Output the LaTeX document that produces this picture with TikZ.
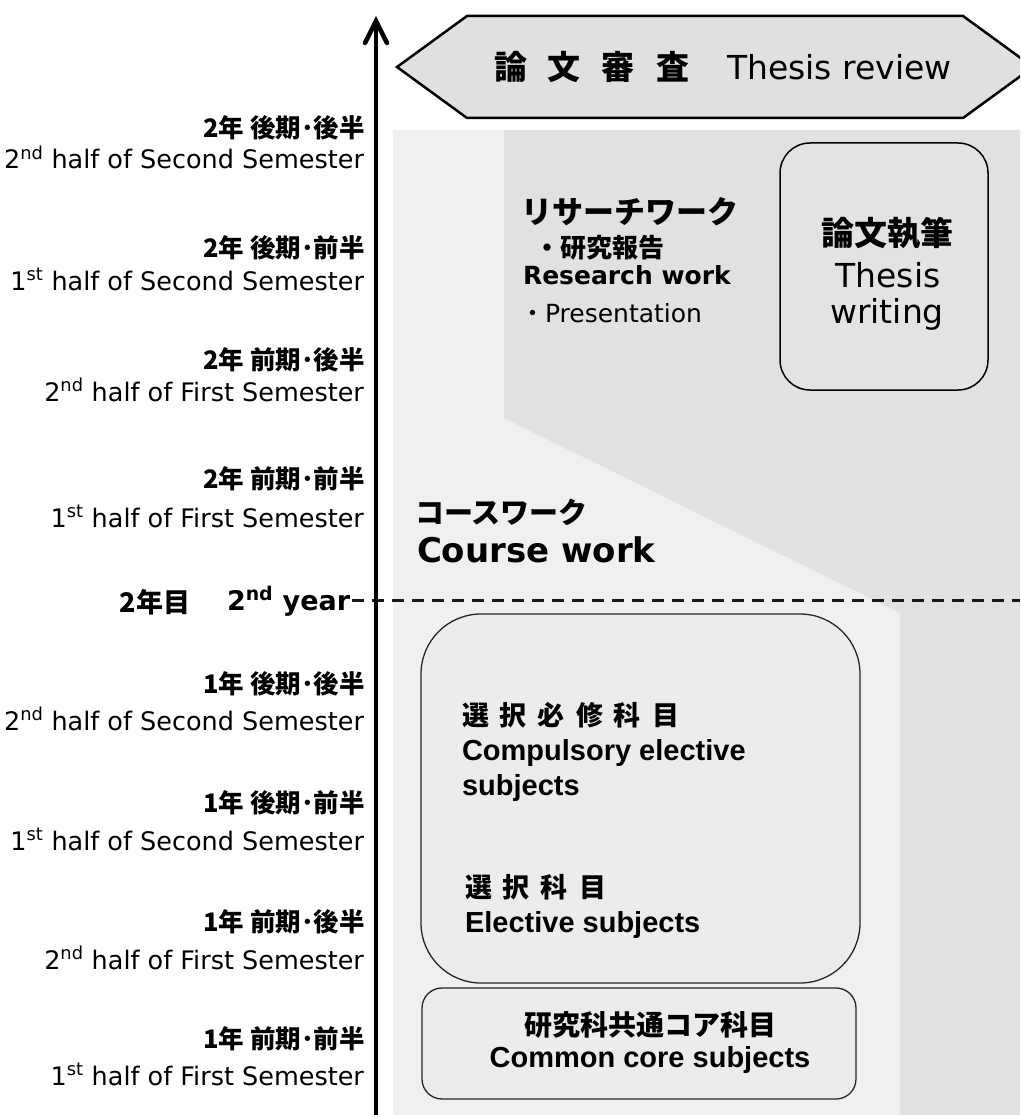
\documentclass[tikz,border=0pt]{standalone}
\usepackage{fontspec}
\setmainfont{DejaVu Sans}
\newfontfamily\jp{Noto Sans CJK JP}
\newfontfamily\ari{Liberation Sans}
\usetikzlibrary{arrows.meta}
\definecolor{lightbg}{HTML}{F0F0F0}
\definecolor{darkbg}{HTML}{E1E1E1}
\definecolor{hexfill}{HTML}{E0E0E0}
\definecolor{boxfill}{HTML}{ECECEC}
\definecolor{thfill}{HTML}{E3E3E3}
\newcommand\fsz[1]{\fontsize{#1}{#1}\selectfont}
\newcommand\jk{\kern11pt}
\tikzset{
  txt/.style={inner sep=0pt, outer sep=0pt},
  jpL/.style={txt, anchor=east, font=\jp\bfseries\fsz{25.5}},
  enL/.style={txt, anchor=base east, font=\fsz{25.5}},
  hexa/.style={draw=black, line width=2.5pt, fill=hexfill, line join=miter},
  thbox/.style={draw=black, line width=1.5pt, fill=thfill, rounded corners=30pt, inner sep=0pt},
  sbox/.style={draw=black!85, line width=1.3pt, fill=boxfill, inner sep=0pt},
  axisline/.style={line width=4.5pt},
  axishead/.style={line width=4.5pt, line cap=round, line join=miter},
  yeardash/.style={line width=3pt, black!90, dash pattern=on 12pt off 8pt},
  boldjp/.style={txt, font=\jp\bfseries\fsz{27}},
  arb/.style={txt, anchor=base west, font=\ari\bfseries\fsz{29}}
}
\begin{document}
\begin{tikzpicture}[x=1pt,y=-1pt]
\useasboundingbox (0,0) rectangle (1020,1115);
\begin{scope}
\clip (0,0) rectangle (1020,1115);
% backgrounds
\fill[lightbg] (393,130) rectangle (1020,1115);
\fill[darkbg] (504,130) -- (1020,130) -- (1020,1115) -- (900,1115) -- (900,613) -- (504,418) -- cycle;
% thesis review banner
\draw[hexa] (397,67) -- (467,16) -- (963,16) -- (1033,67) -- (963,118) -- (467,118) -- cycle;
\end{scope}
\node[txt, anchor=west, font=\jp\bfseries\fsz{33}] (rev1) at (494,67) {論\kern21pt{}文\kern21pt{}審\kern21pt{}査};
\node[txt, anchor=base west, font=\fsz{33}] (rev2) at (727,80) {Thesis review};

% year divider
\coordinate (dl) at (352,600);
\coordinate (dr) at (1020,600);
\draw[yeardash] (dl) -- (dr);

% axis with open chevron head
\coordinate (axbot) at (376,1115);
\coordinate (axtop) at (376,21);
\coordinate (hl) at (365,43);
\coordinate (hr) at (387,43);
\draw[axisline] (axbot) -- (axtop);
\draw[axishead] (hl) -- (axtop) -- (hr);

% left labels
\node[jpL] (j1) at (365,128) {2年 後期･後半};
\node[enL] (e1) at (364,169) {2\textsuperscript{nd} half of Second Semester};
\node[jpL] (j2) at (365,248) {2年 後期･前半};
\node[enL] (e2) at (364,290) {1\textsuperscript{st} half of Second Semester};
\node[jpL] (j3) at (365,360) {2年 前期･後半};
\node[enL] (e3) at (364,401) {2\textsuperscript{nd} half of First Semester};
\node[jpL] (j4) at (365,479) {2年 前期･前半};
\node[enL] (e4) at (364,527) {1\textsuperscript{st} half of First Semester};
\node[txt, anchor=east, font=\jp\bfseries\fsz{27}] (yj) at (190,602) {2年目};
\node[txt, anchor=base west, font=\bfseries\fsz{27}] (ye) at (227,610) {2\textsuperscript{nd} year};
\node[jpL] (j5) at (365,684) {1年 後期･後半};
\node[enL] (e5) at (364,730) {2\textsuperscript{nd} half of Second Semester};
\node[jpL] (j6) at (365,803) {1年 後期･前半};
\node[enL] (e6) at (364,850) {1\textsuperscript{st} half of Second Semester};
\node[jpL] (j7) at (365,922) {1年 前期･後半};
\node[enL] (e7) at (364,969) {2\textsuperscript{nd} half of First Semester};
\node[jpL] (j8) at (365,1039) {1年 前期･前半};
\node[enL] (e8) at (364,1085) {1\textsuperscript{st} half of First Semester};

% research work
\node[txt, anchor=west, font=\jp\bfseries\fsz{31}] (rw1) at (521,212) {リサーチワーク};
\node[txt, anchor=west, font=\jp\bfseries\fsz{26}] (rw2) at (534,248) {・研究報告};
\node[txt, anchor=base west, font=\bfseries\fsz{25}] (rw3) at (523,284) {Research work};
\node[txt, anchor=base west, font=\fsz{25}] (rw4) at (520,322) {{\jp ・}Presentation};

% thesis writing
\node[thbox, minimum width=208pt, minimum height=247pt] (thesis) at (884,266.5) {};
\node[txt, font=\jp\bfseries\fsz{33}] (th1) at (887,233) {論文執筆};
\node[txt, anchor=base, font=\fsz{33}] (th2) at (888,287) {Thesis};
\node[txt, anchor=base, font=\fsz{33}] (th3) at (887,323) {writing};

% course work
\node[txt, anchor=west, font=\jp\bfseries\fsz{29}] (cw1) at (415,512) {コースワーク};
\node[txt, anchor=base west, font=\bfseries\fsz{34}] (cw2) at (417,562) {Course work};

% elective box
\node[sbox, rounded corners=60pt, minimum width=439pt, minimum height=369pt] (elec) at (640.5,798.5) {};
\node[boldjp, anchor=west] (ce1) at (462,715) {選\jk{}択\jk{}必\jk{}修\jk{}科\jk{}目};
\node[arb] (ce2) at (462,760) {Compulsory elective};
\node[arb] (ce3) at (462,795) {subjects};
\node[boldjp, anchor=west] (el1) at (465,887) {選\jk{}択\jk{}科\jk{}目};
\node[arb] (el2) at (465,932) {Elective subjects};

% common core box
\node[sbox, rounded corners=20pt, minimum width=434pt, minimum height=111pt] (core) at (639,1043.5) {};
\node[txt, font=\jp\bfseries\fsz{28}] (co1) at (650,1025) {研究科共通コア科目};
\node[txt, anchor=base, font=\ari\bfseries\fsz{29}] (co2) at (650,1067) {Common core subjects};
\end{tikzpicture}
\end{document}
